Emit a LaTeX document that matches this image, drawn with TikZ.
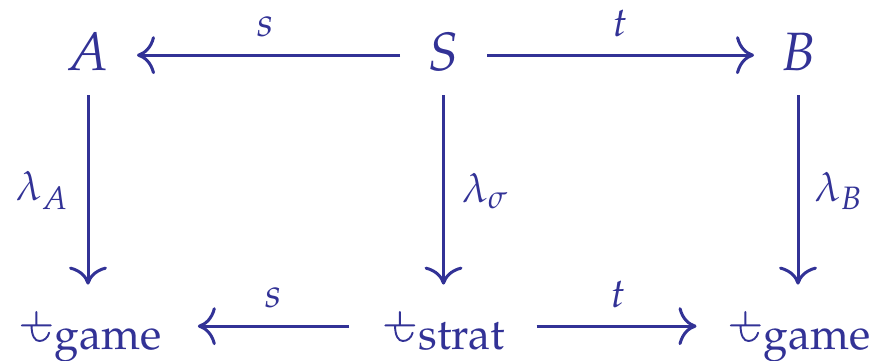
\documentclass[tikz,border=0pt]{standalone}
\usepackage{mathpazo}
\usetikzlibrary{arrows.meta}
\definecolor{diagblue}{RGB}{50,50,150}
\newcommand{\fsym}{\tikz[baseline=0pt,x=0.5pt,y=0.52pt]{\draw[diagblue,line width=0.95pt,line cap=round] (0,15)--(29,15) (14.5,15)--(14.5,28) (9.7,15) .. controls (9.7,5) and (13,0) .. (17.5,0) .. controls (22,0) and (26,3) .. (27.3,8); \path (33,0);}}
\begin{document}
\begin{tikzpicture}[x=0.5pt,y=-0.5pt,
  font=\fontsize{27}{32}\selectfont,
  every node/.style={text=diagblue},
  obj/.style={inner sep=0pt, text height=21.6pt, text depth=6.75pt},
  bot/.style={obj, font=\fontsize{29}{34}\selectfont},
  arr/.style={draw=diagblue, line width=1.5pt, -{Computer Modern Rightarrow[length=9pt,width=19pt]}},
  lab/.style={inner sep=0pt}]
\useasboundingbox (0,0) rectangle (879,360);
\node[obj, anchor=base] (A) at (88,70) {$A$};
\node[obj, anchor=base] (S) at (443.5,70) {$S$};
\node[obj, anchor=base] (B) at (798,70) {$B$};
\node[bot, anchor=base west] (lg) at (20.5,341) {$\fsym_{\mathrm{game}}$};
\node[bot, anchor=base west] (st) at (384,341) {$\fsym_{\mathrm{strat}}$};
\node[bot, anchor=base west] (rg) at (729.5,341) {$\fsym_{\mathrm{game}}$};
\draw[arr, shorten <=21.75pt, shorten >=24.5pt] (S.center) -- node[lab, above=8.5pt] (ls) {$\scriptstyle s$} (A.center);
\draw[arr, shorten <=21.75pt, shorten >=22pt] (S.center) -- node[lab, above=8.5pt] (lt) {$\scriptstyle t$} (B.center);
\draw[arr, shorten <=17.5pt, shorten >=17.5pt] (st.west) -- node[lab, above=8.5pt] (ls2) {$\scriptstyle s$} (lg.east);
\draw[arr, shorten <=15pt, shorten >=16.5pt] (st.east) -- node[lab, above=8.5pt] (lt2) {$\scriptstyle t$} (rg.west);
\draw[arr, shorten <=5.75pt, shorten >=6.4pt] (A.south) -- node[lab, left=9pt] (la) {$\scriptstyle\lambda_A$} (A.south |- lg.north);
\draw[arr, shorten <=5.75pt, shorten >=6.4pt] (S.south) -- node[lab, right=8.5pt] (lsig) {$\scriptstyle\lambda_\sigma$} (S.south |- st.north);
\draw[arr, shorten <=5.75pt, shorten >=6.4pt] (B.south) -- node[lab, right=7.5pt] (lb) {$\scriptstyle\lambda_B$} (B.south |- rg.north);
\end{tikzpicture}
\end{document}
